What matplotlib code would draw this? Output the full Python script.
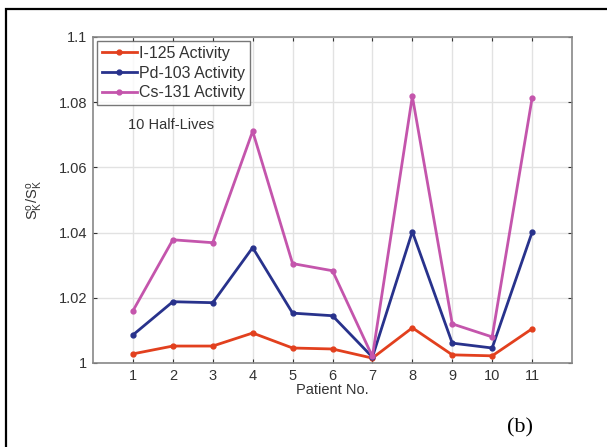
import matplotlib
matplotlib.use("Agg")
import matplotlib.pyplot as plt
from matplotlib.patches import Rectangle

patients = [1, 2, 3, 4, 5, 6, 7, 8, 9, 10, 11]
i125 = [1.0028, 1.0052, 1.0052, 1.0092, 1.0046, 1.0043, 1.0015, 1.0108, 1.0025, 1.0022, 1.0105]
pd103 = [1.0086, 1.0188, 1.0185, 1.0354, 1.0153, 1.0145, 1.0018, 1.0403, 1.0061, 1.0046, 1.0401]
cs131 = [1.0160, 1.0378, 1.0369, 1.0711, 1.0305, 1.0283, 1.0020, 1.0818, 1.0120, 1.0080, 1.0812]
series_labels = ["I-125 Activity", "Pd-103 Activity", "Cs-131 Activity"]
colors = ["#e2401e", "#28328c", "#c455ac"]
yticks = [1.0, 1.02, 1.04, 1.06, 1.08, 1.1]
ytick_labels = ["1", "1.02", "1.04", "1.06", "1.08", "1.1"]

plt.rcParams["font.family"] = ["Liberation Sans", "DejaVu Sans"]

fig = plt.figure(figsize=(6.07, 4.47), dpi=100)
fig.patch.set_facecolor("white")

# outer frame (only top and left edges fall inside the image)
fig.patches.append(Rectangle((6 / 607, -0.1), 1.2, (447 - 9) / 447 + 0.1,
                             transform=fig.transFigure, fill=False,
                             edgecolor="black", linewidth=1.6))

ax = fig.add_axes([93 / 607, 1 - 363 / 447, (572 - 93) / 607, (363 - 37) / 447])
for vals, lab, c in zip([i125, pd103, cs131], series_labels, colors):
    ax.plot(patients, vals, "-", color=c, linewidth=2.0, marker="o",
            markersize=3.5, label=lab)

ax.set_xlim(0, 12)
ax.set_ylim(1.0, 1.1)
ax.set_xticks(patients)
ax.set_xticklabels([str(p) for p in patients])
ax.set_yticks(yticks)
ax.set_yticklabels(ytick_labels)
ax.tick_params(axis="both", labelsize=10.5, colors="#333333", direction="in",
               length=3, right=True, top=True, pad=4)
ax.grid(True, color="#e2e2e2", linewidth=1.0)
for s in ax.spines.values():
    s.set_color("#888888")
    s.set_linewidth(1.2)

ax.set_xlabel("Patient No.", fontsize=10.5, color="#333333", labelpad=0)
ax.set_ylabel(r"$\mathregular{S^o_K/S^o_K}$", fontsize=10.5, color="#333333", labelpad=10)

leg = ax.legend(loc="upper left", fontsize=11.5, frameon=True, fancybox=False,
                borderpad=0.3, handlelength=2.2, handletextpad=0.15,
                labelspacing=0.3, borderaxespad=0.25)
leg.get_frame().set_edgecolor("#555555")
leg.get_frame().set_linewidth(1.0)
for t in leg.get_texts():
    t.set_color("#333333")

ax.text(0.88, 1.0729, "10 Half-Lives", fontsize=10.5, color="#333333", va="center")

fig.text(520 / 607, 1 - 428 / 447, "(b)", fontsize=16, family="Liberation Serif",
         ha="center", va="center", color="black")

fig.savefig("out.png", dpi=100, facecolor="white")
